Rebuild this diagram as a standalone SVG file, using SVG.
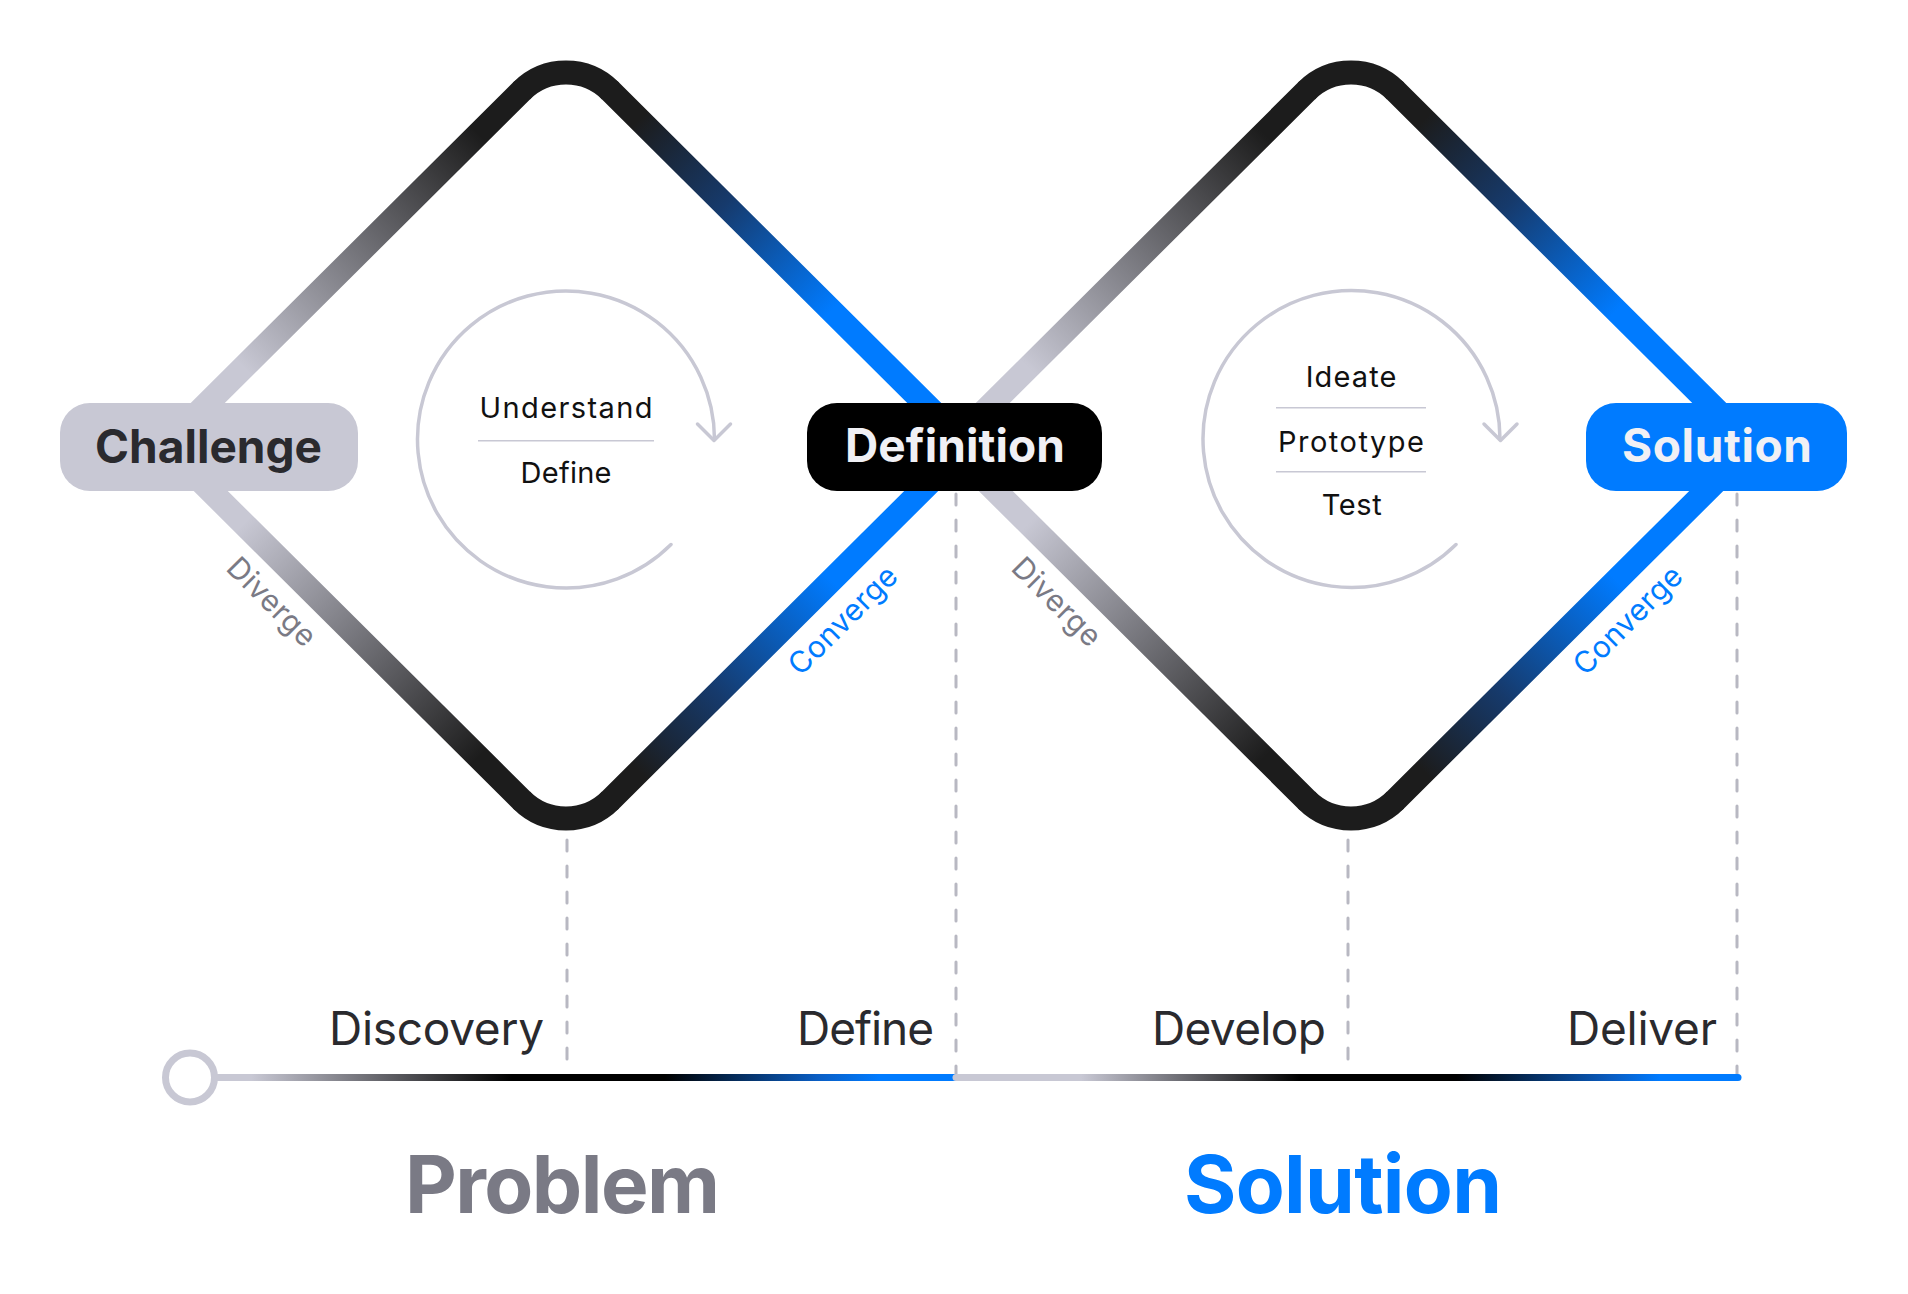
<svg xmlns="http://www.w3.org/2000/svg" width="1908" height="1294" viewBox="0 0 1908 1294">
<defs>
<linearGradient id="gTL" x1="0" y1="1" x2="1" y2="0">
<stop offset="0" stop-color="#c8c8d4"/><stop offset="0.22" stop-color="#c8c8d4"/><stop offset="0.88" stop-color="#1c1c1c"/><stop offset="1" stop-color="#1c1c1c"/>
</linearGradient>
<linearGradient id="gBL" x1="0" y1="0" x2="1" y2="1">
<stop offset="0" stop-color="#c8c8d4"/><stop offset="0.22" stop-color="#c8c8d4"/><stop offset="0.88" stop-color="#1c1c1c"/><stop offset="1" stop-color="#1c1c1c"/>
</linearGradient>
<linearGradient id="gTR" x1="0" y1="0" x2="1" y2="1">
<stop offset="0" stop-color="#1c1c1c"/><stop offset="0.08" stop-color="#1c1c1c"/><stop offset="0.32" stop-color="#163a6c"/><stop offset="0.62" stop-color="#007bff"/><stop offset="1" stop-color="#007bff"/>
</linearGradient>
<linearGradient id="gBR" x1="0" y1="1" x2="1" y2="0">
<stop offset="0" stop-color="#1c1c1c"/><stop offset="0.08" stop-color="#1c1c1c"/><stop offset="0.3" stop-color="#163a6c"/><stop offset="0.62" stop-color="#007bff"/><stop offset="1" stop-color="#007bff"/>
</linearGradient>
<linearGradient id="gT1" gradientUnits="userSpaceOnUse" x1="190" y1="0" x2="956" y2="0">
<stop offset="0" stop-color="#c8c8d4"/><stop offset="0.08" stop-color="#c8c8d4"/><stop offset="0.42" stop-color="#000"/><stop offset="0.62" stop-color="#000"/><stop offset="0.82" stop-color="#0a5ec4"/><stop offset="0.9" stop-color="#007bff"/><stop offset="1" stop-color="#007bff"/>
</linearGradient>
<linearGradient id="gT2" gradientUnits="userSpaceOnUse" x1="956" y1="0" x2="1738" y2="0">
<stop offset="0" stop-color="#c8c8d4"/><stop offset="0.16" stop-color="#c8c8d4"/><stop offset="0.44" stop-color="#000"/><stop offset="0.64" stop-color="#000"/><stop offset="0.84" stop-color="#0a5ec4"/><stop offset="0.9" stop-color="#007bff"/><stop offset="1" stop-color="#007bff"/>
</linearGradient>
</defs>
<style>
.edge{fill:none;stroke-width:24;stroke-linecap:round}
.corner{fill:none;stroke:#1c1c1c;stroke-width:24}
.loop{fill:none;stroke:#c8c8d4;stroke-width:3.5;stroke-linecap:round;stroke-linejoin:round}
.sep{stroke:#c8c8d4;stroke-width:1.5}
.inner{font-family:Inter,'Noto Sans',sans-serif;font-size:29px;fill:#111}
.pilltxt{font-family:Inter,'Noto Sans',sans-serif;font-size:46px;font-weight:700}
.phase{font-family:Inter,'Noto Sans',sans-serif;font-size:46px;fill:#2a2a2e}
.side{font-family:Inter,'Noto Sans',sans-serif;font-size:30px}
.big{font-family:Inter,'Noto Sans',sans-serif;font-size:80px;font-weight:700}
.dash{stroke:#b8b8c2;stroke-width:3;stroke-dasharray:11 15;stroke-linecap:round}
</style>
<rect width="1908" height="1294" fill="#fff"/>

<g id="guides">
<line class="dash" x1="567" y1="840" x2="567" y2="1074"/>
<line class="dash" x1="956" y1="494" x2="956" y2="1074"/>
<line class="dash" x1="1348" y1="840" x2="1348" y2="1074"/>
<line class="dash" x1="1737" y1="494" x2="1737" y2="1074"/>
</g>

<g id="connectors">
<path class="corner" d="M521.45 91.05 A63 63 0 0 1 610.55 91.05"/>
<path class="corner" d="M521.45 799.95 A63 63 0 0 0 610.55 799.95"/>
<path class="edge" stroke="url(#gTL)" d="M165 445.5 L521.45 91.05"/>
<path class="edge" stroke="url(#gBL)" d="M165 445.5 L521.45 799.95"/>
<path class="edge" stroke="url(#gTR)" d="M610.55 91.05 L967 445.5"/>
<path class="edge" stroke="url(#gBR)" d="M610.55 799.95 L967 445.5"/>

<path class="corner" d="M1306.45 91.05 A63 63 0 0 1 1395.55 91.05"/>
<path class="corner" d="M1306.45 799.95 A63 63 0 0 0 1395.55 799.95"/>
<path class="edge" stroke="url(#gTL)" d="M950 445.5 L1306.45 91.05"/>
<path class="edge" stroke="url(#gBL)" d="M950 445.5 L1306.45 799.95"/>
<path class="edge" stroke="url(#gTR)" d="M1395.55 91.05 L1752 445.5"/>
<path class="edge" stroke="url(#gBR)" d="M1395.55 799.95 L1752 445.5"/>
</g>

<g id="labels-edges">
<text class="side" fill="#7a7a85" transform="translate(271.5 602) rotate(45)" x="-56" y="10" textLength="112">Diverge</text>
<text class="side" fill="#007bff" transform="translate(843 620.5) rotate(-45)" x="-70" y="10" textLength="140">Converge</text>
<text class="side" fill="#7a7a85" transform="translate(1056.5 602) rotate(45)" x="-56" y="10" textLength="112">Diverge</text>
<text class="side" fill="#007bff" transform="translate(1628 620.5) rotate(-45)" x="-70" y="10" textLength="140">Converge</text>
</g>

<g id="loop-problem">
<path class="loop" d="M671 544.5 A148.5 148.5 0 1 1 714.5 439.5"/>
<path class="loop" d="M697.5 424 L714 440.5 L730.5 424"/>
<text class="inner" x="479.5" y="418" textLength="173">Understand</text>
<line class="sep" x1="478" y1="440.7" x2="654" y2="440.7"/>
<text class="inner" x="520.5" y="482.7" textLength="91">Define</text>
</g>

<g id="loop-solution">
<path class="loop" d="M1456 544.5 A148.5 148.5 0 1 1 1500 439.5"/>
<path class="loop" d="M1484 424 L1500.5 440.5 L1517 424"/>
<text class="inner" x="1305.7" y="387.3" textLength="90.7">Ideate</text>
<line class="sep" x1="1276" y1="407.7" x2="1426" y2="407.7"/>
<text class="inner" x="1278" y="451.7" textLength="146">Prototype</text>
<line class="sep" x1="1276" y1="471.7" x2="1426" y2="471.7"/>
<text class="inner" x="1321.7" y="515" textLength="60">Test</text>
</g>

<g id="node-challenge">
<rect x="60" y="403" width="298" height="88" rx="30" fill="#c8c8d4"/>
<text class="pilltxt" fill="#2a2a2e" x="95" y="463" textLength="227">Challenge</text>
</g>
<g id="node-definition">
<rect x="807" y="403" width="295" height="88" rx="30" fill="#000"/>
<text class="pilltxt" fill="#f0f0f5" x="845" y="462" textLength="220">Definition</text>
</g>
<g id="node-solution">
<rect x="1586" y="403" width="261" height="88" rx="30" fill="#007bff"/>
<text class="pilltxt" fill="#f0f0f5" x="1622" y="462" textLength="190">Solution</text>
</g>

<g id="timeline">
<line x1="190" y1="1077.5" x2="956" y2="1077.5" stroke="url(#gT1)" stroke-width="7"/>
<line x1="956" y1="1077.5" x2="1738" y2="1077.5" stroke="url(#gT2)" stroke-width="7" stroke-linecap="round"/>
<circle cx="190" cy="1077.5" r="24.5" fill="#fff" stroke="#c8c8d4" stroke-width="7"/>
</g>

<g id="phases">
<text class="phase" x="329" y="1045" textLength="215">Discovery</text>
<text class="phase" x="797" y="1045" textLength="137">Define</text>
<text class="phase" x="1152" y="1045" textLength="174">Develop</text>
<text class="phase" x="1567" y="1045" textLength="150">Deliver</text>
</g>

<g id="sections">
<text class="big" fill="#7a7a85" x="405" y="1213" textLength="315">Problem</text>
<text class="big" fill="#007bff" x="1184" y="1213" textLength="318">Solution</text>
</g>
</svg>
